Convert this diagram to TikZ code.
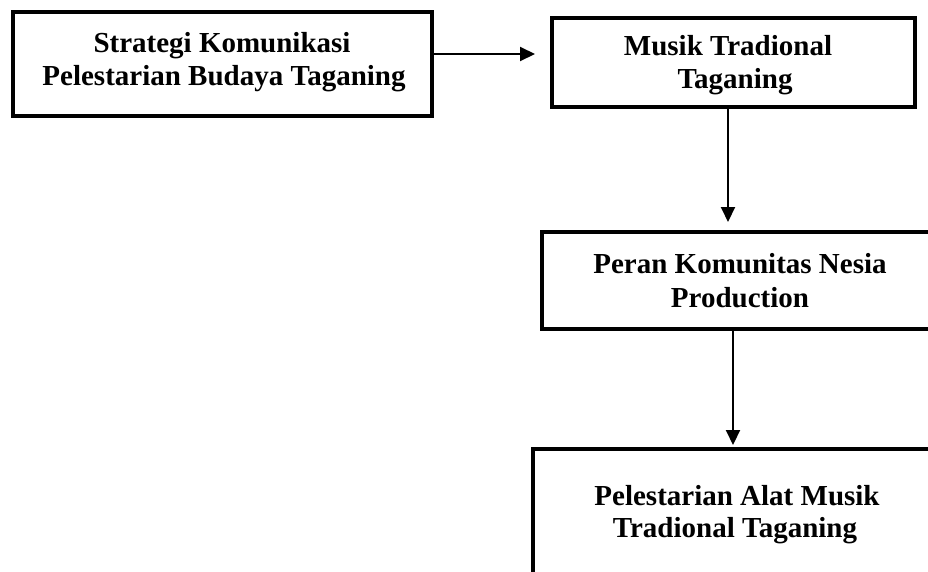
\documentclass[tikz,border=0pt]{standalone}
\usepackage{fontspec}
\setmainfont{Liberation Serif}
\usetikzlibrary{arrows.meta}
\begin{document}
\begin{tikzpicture}[x=1pt,y=-1pt,
  box/.style={draw=black,line width=4pt,line join=miter,rectangle,inner sep=0pt,outer sep=0pt},
  txt/.style={anchor=base,inner sep=0pt,font=\fontsize{29}{33}\selectfont\bfseries},
  arr/.style={draw=black,line width=2pt,-{Triangle[length=15pt,width=14pt]}}]
\clip (0,0) rectangle (928,571);
\useasboundingbox (0,0) rectangle (928,571);
\fill[white] (0,0) rectangle (928,571);
% boxes
\node[box,minimum width=419pt,minimum height=104pt] (b1) at (222.5,64) {};
\node[box,minimum width=363pt,minimum height=89pt] (b2) at (733.5,62.5) {};
\node[box,minimum width=428pt,minimum height=97pt] (b3) at (756,280.5) {};
\node[box,minimum width=447pt,minimum height=251pt] (b4) at (756.5,574.5) {};
% texts
\node[txt] (t1a) at (222,52) {Strategi Komunikasi};
\node[txt] (t1b) at (224,85) {Pelestarian Budaya Taganing};
\node[txt] (t2a) at (728,55) {Musik Tradional};
\node[txt] (t2b) at (735,88) {Taganing};
\node[txt] (t3a) at (740,273) {Peran Komunitas Nesia};
\node[txt] (t3b) at (740,307) {Production};
\node[txt] (t4a) at (737,505) {Pelestarian Alat Musik};
\node[txt] (t4b) at (735,537) {Tradional Taganing};
% connectors
\coordinate (c2) at (728,0);
\coordinate (c3) at (733,0);
\draw[arr,shorten >=17pt] ([yshift=10pt]b1.east) -- ([yshift=8.5pt]b2.west);
\draw[arr,shorten >=10pt] (c2 |- b2.south) -- (c2 |- b3.north);
\draw[arr,shorten >=4pt] (c3 |- b3.south) -- (c3 |- b4.north);
\end{tikzpicture}
\end{document}
